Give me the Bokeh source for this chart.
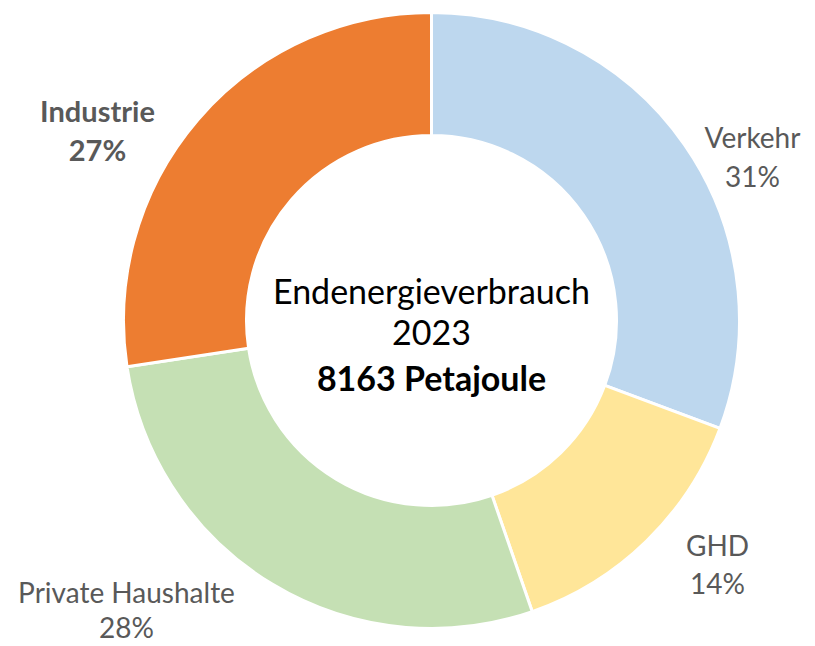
import math
from bokeh.plotting import figure
from bokeh.models import Range1d, ColumnDataSource
from bokeh.embed import file_html
from bokeh.resources import INLINE
from bokeh.core.properties import value

# ---- data ----
sectors = ["Verkehr", "GHD", "Private Haushalte", "Industrie"]
shares = [30.7, 14.0, 27.9, 27.4]          # percent of final energy use
share_labels = ["31%", "14%", "28%", "27%"]
colors = ["#BDD7EE", "#FFE699", "#C5E0B4", "#ED7D31"]
bold_label = [False, False, False, True]
center_lines = ["Endenergieverbrauch", "2023", "8163 Petajoule"]
center_bold = [False, False, True]

# ---- layout (page pixel coords, y down) ----
W, H = 815, 646
def Y(yp):
    return H - yp

cx, cy = 431, Y(320)
r_out, r_in = 308, 185
label_pos = {  # centre of name line (page coords), line gap
    "Verkehr": (752, 136, 39),
    "GHD": (717, 544, 38),
    "Private Haushalte": (126, 591, 35),
    "Industrie": (97, 110, 39),
}

p = figure(width=W, height=H, output_backend="svg", toolbar_location=None,
           x_range=Range1d(0, W), y_range=Range1d(0, H),
           min_border=0)
p.axis.visible = False
p.grid.visible = False
p.outline_line_color = None
p.background_fill_color = "white"

total = sum(shares)
starts, ends = [], []
a = math.pi / 2
for s in shares:
    span = s / total * 2 * math.pi
    starts.append(a - span)
    ends.append(a)
    a -= span

src = ColumnDataSource(dict(start=starts, end=ends, color=colors))
p.annular_wedge(x=cx, y=cy, inner_radius=r_in, outer_radius=r_out,
                start_angle="start", end_angle="end", fill_color="color",
                line_color="white", line_width=3, source=src)

for name, lab, bold in zip(sectors, share_labels, bold_label):
    lx, ly, gap = label_pos[name]
    p.text(x=[lx, lx], y=[Y(ly), Y(ly + gap)], text=[name, lab],
           text_align="center", text_baseline="middle",
           text_font=value("Lato"),
           text_font_size="29px" if bold else "28px",
           text_font_style="bold" if bold else "normal",
           text_color="#595959")

cys = [290, 332, 377]
for t, yy, b in zip(center_lines, cys, center_bold):
    p.text(x=[cx], y=[Y(yy)], text=[t], text_align="center",
           text_baseline="middle", text_font=value("Lato"),
           text_font_size="34px", text_font_style="bold" if b else "normal",
           text_color="black")

open("out.html", "w").write(file_html(p, INLINE))
